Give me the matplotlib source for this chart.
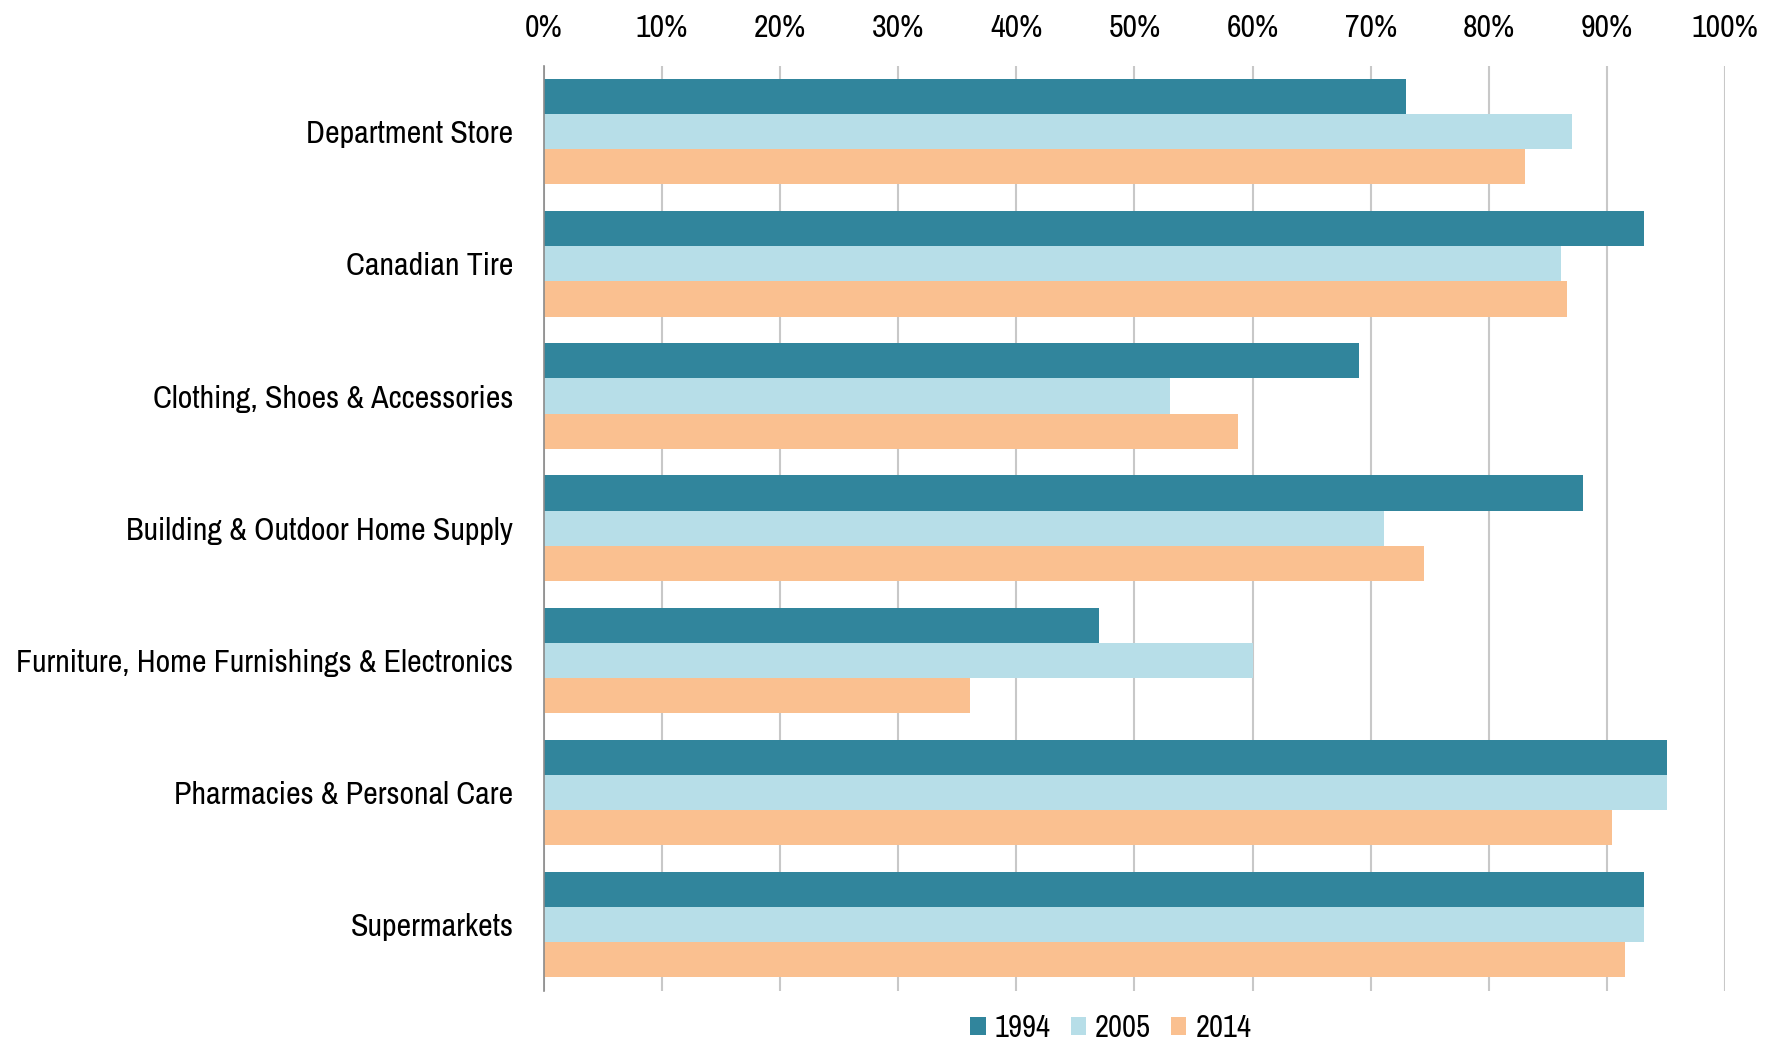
import numpy as np
import matplotlib
matplotlib.use("Agg")
import matplotlib.pyplot as plt
from matplotlib.ticker import PercentFormatter

plt.rcParams['font.family'] = ['Archivo Narrow', 'Roboto Condensed', 'DejaVu Sans']

categories = ["Department Store", "Canadian Tire", "Clothing, Shoes & Accessories",
              "Building & Outdoor Home Supply", "Furniture, Home Furnishings & Electronics",
              "Pharmacies & Personal Care", "Supermarkets"]
years = ["1994", "2005", "2014"]
share_1994 = [73.0, 93.1, 69.0, 88.0, 47.0, 95.1, 93.1]
share_2005 = [87.0, 86.1, 53.0, 71.1, 60.0, 95.1, 93.1]
share_2014 = [83.1, 86.6, 58.8, 74.5, 36.1, 90.4, 91.5]
colors = ["#31859C", "#B7DEE8", "#FAC090"]

fig = plt.figure(figsize=(17.81, 10.47), dpi=100)
ax = fig.add_axes([0.3054, 0.0538, 0.6632, 0.8835])

y = np.arange(len(categories))
h = 0.266
for i, (vals, c, lab) in enumerate(zip([share_1994, share_2005, share_2014], colors, years)):
    ax.barh(y + (i - 1) * h, vals, height=h, color=c, label=lab, zorder=2)

ax.set_xlim(0, 100)
ax.set_ylim(len(categories) - 0.5, -0.5)
ax.set_xticks(np.arange(0, 101, 10))
ax.xaxis.set_major_formatter(PercentFormatter(decimals=0))
ax.xaxis.tick_top()
ax.set_yticks(y)
ax.set_yticklabels(categories)
ax.tick_params(axis='both', length=0, labelsize=23, colors='black')
ax.tick_params(axis='y', pad=22)
ax.tick_params(axis='x', pad=17)

ax.grid(axis='x', color='#c8c8c8', linewidth=1.5, zorder=0)
for s in ['top', 'right', 'bottom']:
    ax.spines[s].set_visible(False)
ax.spines['left'].set_color('#8a8a8a')
ax.spines['left'].set_linewidth(1.2)

# legend sits just under the bars, a little left of the plot centre
ax.legend(loc='center', bbox_to_anchor=(0.48, -0.040), ncol=3, frameon=False,
          fontsize=22, handlelength=0.5, handleheight=0.5, handletextpad=0.3,
          columnspacing=0.65, borderpad=0)

fig.savefig("out.png", dpi=100, facecolor='white')
